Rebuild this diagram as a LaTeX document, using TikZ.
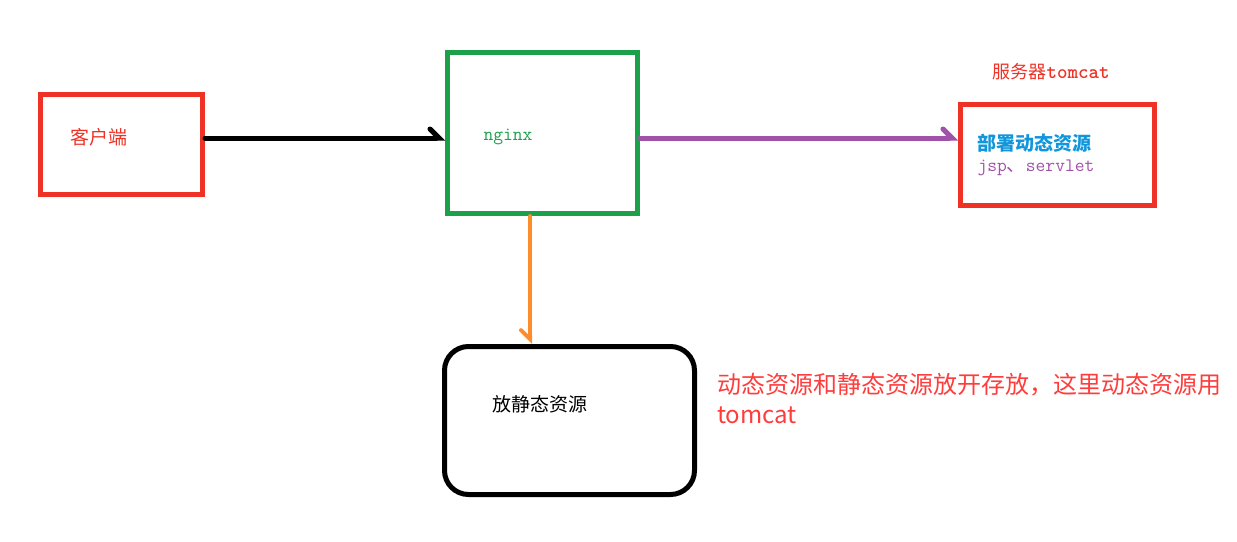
\documentclass[tikz,border=0pt]{standalone}
\usepackage{fontspec}
\usepackage{tikz}
\usetikzlibrary{
  arrows.meta,
  positioning
}
\newfontfamily\cjk{Noto Sans CJK SC}
\definecolor{boxred}{RGB}{238,50,38}
\definecolor{boxgreen}{RGB}{28,160,74}
\definecolor{labelblue}{RGB}{18,150,219}
\definecolor{linkpurple}{RGB}{160,82,168}
\definecolor{linkorange}{RGB}{255,140,42}
\definecolor{notered}{RGB}{255,60,60}
\tikzset{
  every box/.style={draw,line width=5pt,inner sep=0pt},
  every link/.style={line width=5pt,line cap=round,
    -{Straight Barb[harpoon,length=9pt,width=18pt,line cap=round]}},
}

\begin{document}
\begin{tikzpicture}[x=1pt,y=-1pt]
\useasboundingbox (0,0) rectangle (1237,541);
\node[every box,boxred,minimum width=162pt,minimum height=100pt] (client) at (121.5,144.5) {};
\node[every box,boxgreen,minimum width=190pt,minimum height=161pt] (nginx) at (542.5,133) {};
\node[every box,boxred,minimum width=194pt,minimum height=101pt] (tomcat) at (1057.5,155) {};
\node[every box,black,rounded corners=24pt,minimum width=250pt,minimum height=148pt] (static) at (569.5,420.5) {};
% labels
\node[boxred,font=\cjk\fontsize{19}{19}\selectfont] (clientlabel) at (99,137) {客户端};
\node[boxgreen,font=\ttfamily\fontsize{19}{19}\selectfont] (nginxlabel) at (508,137) {nginx};
\node[boxred,font=\fontsize{18}{18}\selectfont] (tomcattitle) at (1051,72) {{\cjk 服务器}{\ttfamily\bfseries\fontsize{20}{20}\selectfont tomcat}};
\node[labelblue,font=\cjk\bfseries\fontsize{19}{19}\selectfont,anchor=west] (dynlabel) at (974,143) {部署动态资源};
\node[linkpurple,font=\ttfamily\fontsize{19}{19}\selectfont,anchor=west] (dynsub) at (974,168) {jsp{\cjk 、}servlet};
\node[black,font=\cjk\fontsize{19}{19}\selectfont] (staticlabel) at (540,404) {放静态资源};
\node[notered,font=\cjk\fontsize{24}{30}\selectfont,anchor=north west,align=left,inner sep=0pt] (note) at (717,373)
  {动态资源和静态资源放开存放，这里动态资源用\\tomcat};
% links
\draw[every link,black] ([yshift=6.5pt]client.east) -- ([yshift=-5pt]nginx.west);
\draw[every link,linkpurple] ([yshift=-5pt]nginx.east) -- ([yshift=17pt]tomcat.west);
\draw[every link,linkorange,line width=4pt,-{Straight Barb[harpoon,swap,length=9pt,width=18pt,line cap=round]}]
  ([xshift=-12.5pt]nginx.south) -- ([xshift=-39.5pt]static.north);
\end{tikzpicture}
\end{document}
